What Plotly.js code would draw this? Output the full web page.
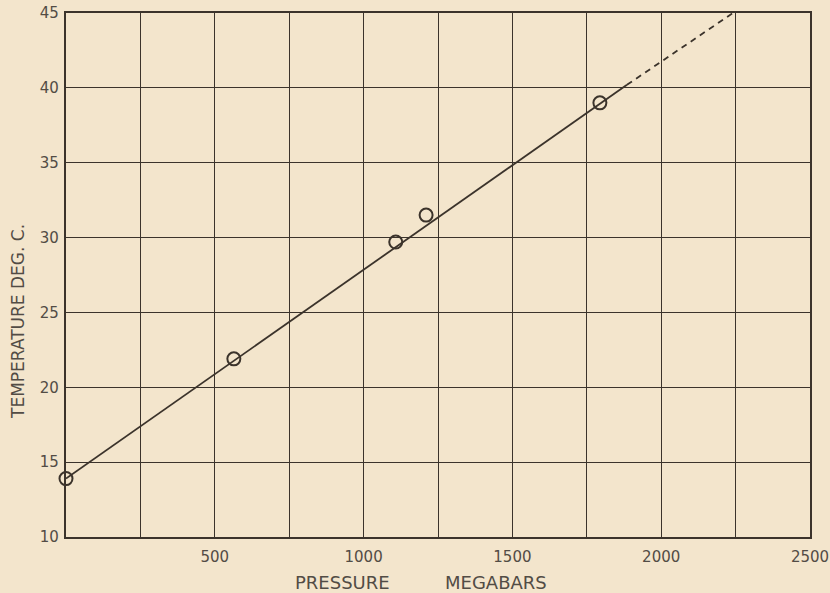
<!DOCTYPE html>
<html>
<head>
<meta charset="utf-8">
<script src="https://cdn.plot.ly/plotly-3.0.1.min.js"></script>
<style>
html,body{margin:0;padding:0;background:#f3e5cc;}
#chart{width:830px;height:593px;}
</style>
</head>
<body>
<div id="chart"></div>
<script>
// Measured points
const pressure = [0, 564, 1108, 1210, 1794];
const temperature = [13.9, 21.9, 29.7, 31.5, 39.0];
// Fitted line (solid part) and its extrapolation (dashed part)
const fitX = [0, 1885];
const fitY = [13.9, 40.2];
const extX = [1885, 2241];
const extY = [40.2, 45];
// Ticks
const xTickVals = [0, 250, 500, 750, 1000, 1250, 1500, 1750, 2000, 2250, 2500];
const xTickText = ['', '', '500', '', '1000', '', '1500', '', '2000', '', '2500'];
const yTickVals = [10, 15, 20, 25, 30, 35, 40, 45];
const yTickText = ['10', '15', '20', '25', '30', '35', '40', '45'];

const ink = '#3b332b';
const txt = '#524c45';
const traces = [
  {x: fitX, y: fitY, mode: 'lines', line: {color: ink, width: 1.8}, hoverinfo: 'skip', showlegend: false},
  {x: extX, y: extY, mode: 'lines', line: {color: ink, width: 1.8, dash: '6px,5px'}, hoverinfo: 'skip', showlegend: false},
  {x: pressure, y: temperature, mode: 'markers', cliponaxis: false,
   marker: {symbol: 'circle-open', size: 13, color: ink, line: {width: 2, color: ink}}, showlegend: false}
];

const layout = {
  width: 830, height: 593,
  margin: {l: 66, r: 20, t: 13, b: 56},
  paper_bgcolor: '#f3e5cc',
  plot_bgcolor: '#f3e5cc',
  font: {family: 'DejaVu Sans, sans-serif', color: txt, size: 15},
  xaxis: {
    range: [0, 2500], tickvals: xTickVals, ticktext: xTickText,
    showgrid: true, gridcolor: ink, gridwidth: 1,
    showline: true, linecolor: ink, linewidth: 2.2, mirror: true,
    zeroline: false, ticks: 'outside', ticklen: 5, tickcolor: 'rgba(0,0,0,0)',
    tickfont: {size: 15, color: txt}
  },
  yaxis: {
    range: [10, 45], tickvals: yTickVals, ticktext: yTickText,
    showgrid: true, gridcolor: ink, gridwidth: 1,
    showline: true, linecolor: ink, linewidth: 2.2, mirror: true,
    zeroline: false, ticks: 'outside', ticklen: 2, tickcolor: 'rgba(0,0,0,0)',
    tickfont: {size: 15, color: txt}
  },
  annotations: [
    {text: 'PRESSURE', xref: 'paper', yref: 'paper', x: (342-66)/744, y: -(582-537)/524,
     xanchor: 'center', yanchor: 'middle', showarrow: false, font: {size: 18, color: txt}},
    {text: 'MEGABARS', xref: 'paper', yref: 'paper', x: (496-66)/744, y: -(582-537)/524,
     xanchor: 'center', yanchor: 'middle', showarrow: false, font: {size: 18, color: txt}},
    {text: 'TEMPERATURE DEG. C.', xref: 'paper', yref: 'paper', x: -(66-18)/744, y: (537-322)/524,
     xanchor: 'center', yanchor: 'middle', textangle: -90, showarrow: false, font: {size: 17, color: txt}}
  ]
};

Plotly.newPlot('chart', traces, layout, {displayModeBar: false, staticPlot: true});
</script>
</body>
</html>
